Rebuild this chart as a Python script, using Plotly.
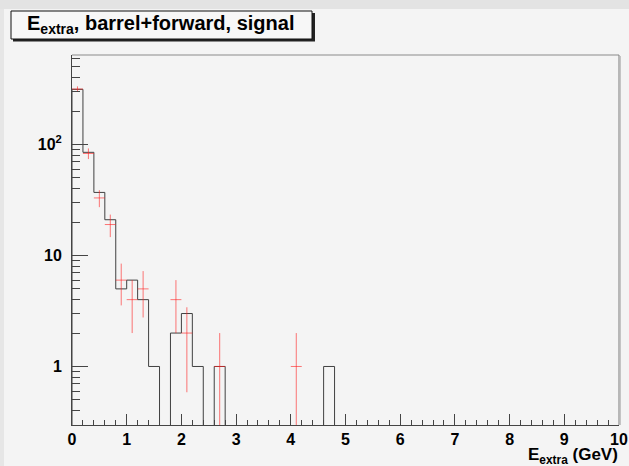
import numpy as np
import plotly.graph_objects as go

# Histogram (simulation), 50 bins of 0.2 GeV between 0 and 10 GeV
bin_edges = np.round(np.arange(0, 10.0001, 0.2), 3)
mc_counts = [314, 85, 37, 21, 5, 6, 4, 1, 0, 2,
             3, 1, 0, 1, 0, 0, 0, 0, 0, 0,
             0, 0, 0, 1, 0, 0, 0, 0, 0, 0,
             0, 0, 0, 0, 0, 0, 0, 0, 0, 0,
             0, 0, 0, 0, 0, 0, 0, 0, 0, 0]

# Data points (non-empty bins) with Poisson errors
data_x = [0.1, 0.3, 0.5, 0.7, 0.9, 1.1, 1.3, 1.9, 2.1, 2.7, 4.1]
data_y = [316, 83, 33, 19, 6, 4, 5, 4, 2, 1, 1]
data_err = [float(np.sqrt(v)) for v in data_y]

y_range = [0.297, 640]
x_range = [0, 10]

W, H = 629, 466
ML, MR, MT, MB = 72, 10, 55, 41
PW, PH = W - ML - MR, H - MT - MB


def px(x):
    return (x - ML) / PW


def py(y):
    return 1 - (y - MT) / PH


FONT = "Liberation Sans, Arial, Helvetica, sans-serif"

# step outline; empty bins drop below the visible range
floor = 1e-3
step_x = [0.0] + list(bin_edges[:-1]) + [10.0, 10.0]
step_y = [floor] + [c if c > 0 else floor for c in mc_counts] + \
         [mc_counts[-1] if mc_counts[-1] > 0 else floor, floor]

fig = go.Figure()
fig.add_trace(go.Scatter(
    x=step_x, y=step_y, mode="lines", line_shape="hv",
    line=dict(color="#404040", width=1), hoverinfo="skip", showlegend=False))

fig.add_trace(go.Scatter(
    x=data_x, y=data_y, mode="markers",
    marker=dict(size=1, color="rgba(255,0,0,0)"),
    error_y=dict(type="data", array=data_err, arrayminus=data_err,
                 color="rgba(255,30,30,0.6)", thickness=1, width=0),
    error_x=dict(type="constant", value=0.1,
                 color="rgba(255,30,30,0.6)", thickness=1, width=0),
    showlegend=False))

minor_y = [m * 10 ** e for e in range(-1, 3) for m in range(2, 10)]
minor_y = [v for v in minor_y if y_range[0] <= v <= y_range[1]]

shapes = [
    # window edges
    dict(type="rect", xref="paper", yref="paper", x0=px(0), x1=px(W),
         y0=py(9), y1=py(0), fillcolor="#e3e3e3", line_width=0, layer="below"),
    dict(type="rect", xref="paper", yref="paper", x0=px(0), x1=px(4),
         y0=py(H), y1=py(9), fillcolor="#e6e6e6", line_width=0, layer="below"),
    # frame top / right
    dict(type="line", xref="paper", yref="paper", x0=0, x1=1, y0=1, y1=1,
         line=dict(color="#8a8a8a", width=1)),
    dict(type="line", xref="paper", yref="paper", x0=1, x1=1, y0=0, y1=1,
         line=dict(color="#7a7a7a", width=1)),
    dict(type="line", xref="paper", yref="paper", x0=px(620.5), x1=px(620.5),
         y0=0, y1=py(56), line=dict(color="#c4c4c4", width=1)),
    # title box with shadow
    dict(type="rect", xref="paper", yref="paper", x0=px(13), x1=px(315),
         y0=py(41.5), y1=py(13), fillcolor="#222222", line_width=0),
    dict(type="rect", xref="paper", yref="paper", x0=px(11), x1=px(312),
         y0=py(39), y1=py(11), fillcolor="#f7f7f7",
         line=dict(color="#111111", width=1)),
]

annotations = [
    dict(text="<b>E<sub>extra</sub>, barrel+forward, signal</b>",
         xref="paper", yref="paper", x=px(160), y=py(25),
         xanchor="center", yanchor="middle", showarrow=False,
         font=dict(family=FONT, size=20, color="#000000")),
    dict(text="<b>E<sub>extra</sub> (GeV)</b>",
         xref="paper", yref="paper", x=px(619), y=py(467),
         xanchor="right", yanchor="bottom", yshift=-1, showarrow=False,
         borderpad=0,
         font=dict(family=FONT, size=17, color="#000000")),
]

fig.update_layout(
    template="none",
    width=W, height=H,
    margin=dict(l=ML, r=MR, t=MT, b=MB, pad=0),
    paper_bgcolor="#f4f4f4", plot_bgcolor="#f4f4f4",
    shapes=shapes, annotations=annotations,
    xaxis=dict(
        automargin=False,
        range=x_range, showgrid=False, zeroline=False,
        showline=True, linecolor="#444444", linewidth=1,
        ticks="inside", ticklen=11, tickwidth=1, tickcolor="#444444",
        tickmode="linear", tick0=0, dtick=1,
        minor=dict(ticks="inside", ticklen=5, tickwidth=1,
                   tickcolor="#444444", tickmode="linear", tick0=0, dtick=0.2,
                   showgrid=False),
        tickfont=dict(family=FONT, size=16, color="#000000", weight="bold"),
        ticklabelstandoff=0,
    ),
    yaxis=dict(
        automargin=False,
        type="log", range=[np.log10(y_range[0]), np.log10(y_range[1])],
        showgrid=False, zeroline=False,
        showline=True, linecolor="#444444", linewidth=1,
        ticks="inside", ticklen=16, tickwidth=1, tickcolor="#444444",
        tickmode="array", tickvals=[1, 10, 100],
        ticktext=["1", "10", "10<sup>2</sup>"],
        minor=dict(ticks="inside", ticklen=8, tickwidth=1,
                   tickcolor="#444444", tickmode="array", tickvals=minor_y,
                   showgrid=False),
        tickfont=dict(family=FONT, size=16, color="#000000", weight="bold"),
        ticklabelstandoff=6,
    ),
)

fig.write_html("out.html")
